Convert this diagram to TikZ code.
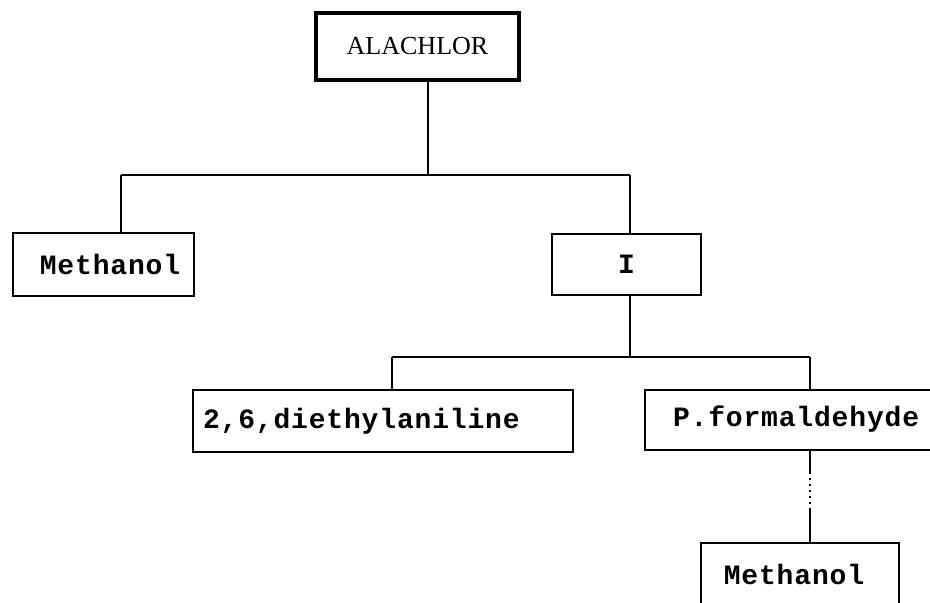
\documentclass[tikz,border=0pt]{standalone}
\usepackage{fontspec}
\setmainfont{Liberation Serif}
\newfontfamily\labelmono[LetterSpace=3]{Liberation Mono}
\begin{document}
\begin{tikzpicture}[x=1pt,y=-1pt,
  box/.style={draw,line width=2pt,inner sep=0pt,font=\labelmono\bfseries\fontsize{28}{30}\selectfont},
  rootbox/.style={draw,line width=3.5pt,inner sep=0pt,font=\fontsize{26}{28}\selectfont},
  link/.style={line width=2.4pt},
  dlink/.style={line width=2pt,dash pattern=on 23pt off 4pt on 2pt off 4pt on 2pt off 4pt on 2pt off 4pt on 2pt off 4pt on 2pt off 4pt on 40pt off 1pt}]
\useasboundingbox (0,0) rectangle (930,603);
\clip (0,0) rectangle (930,603);

% boxes
\node[rootbox,minimum width=203pt,minimum height=67pt] (root) at (417.5,46.5) {ALACHLOR};
\node[box,minimum width=181pt,minimum height=63pt] (meth1) at (103.5,264.5) {\hspace*{13pt}Methanol};
\node[box,minimum width=149pt,minimum height=61pt] (inter) at (626.5,264.5) {I};
\node[box,minimum height=62pt,inner xsep=10pt,text width=360pt,align=left] (dea) at (383,421) {2,6,diethylaniline};
\node[box,minimum height=60pt,inner xsep=28pt,text width=274pt,align=left] (pform) at (810,419.5) {P.formaldehyde};
\node[box,minimum width=198pt,minimum height=62pt] (meth2) at (800,574) {Methanol\hspace*{12pt}};

% branch points
\coordinate (t1) at (428,175);
\coordinate (bl) at (121,175);
\coordinate (br) at (630,175);
\coordinate (t2) at (630,357);
\coordinate (cl) at (392,357);
\coordinate (cr) at (810,357);

% connectors
\draw[link] (root.south -| t1) -- (t1);
\draw[link] (bl) -- (br);
\draw[link] (bl) -- (bl |- meth1.north);
\draw[link] (br) -- (br |- inter.north);
\draw[link] (inter.south -| t2) -- (t2);
\draw[link] (cl) -- (cr);
\draw[link] (cl) -- (cl |- dea.north);
\draw[link] (cr) -- (cr |- pform.north);
\draw[dlink] (pform.south) -- (pform.south |- meth2.north);
\end{tikzpicture}
\end{document}
